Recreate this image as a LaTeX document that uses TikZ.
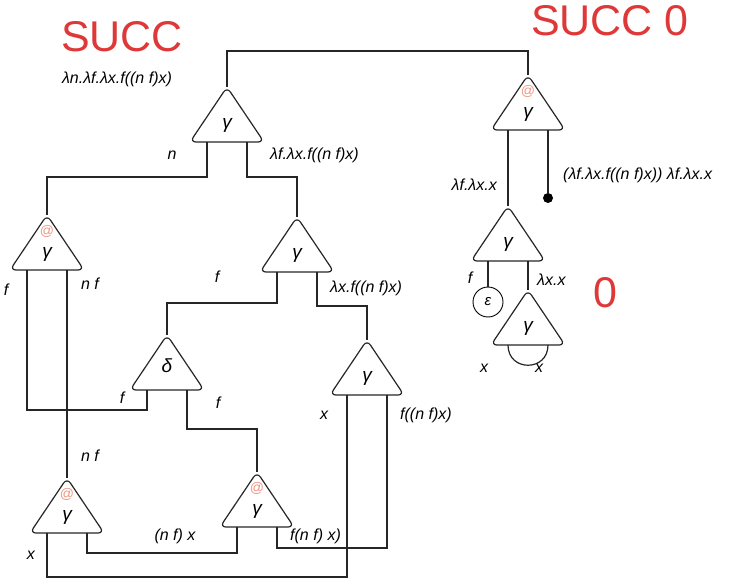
\documentclass[tikz,border=0pt]{standalone}
\usepackage{fontspec}
\setmainfont{Liberation Sans}
\definecolor{succred}{RGB}{222,56,56}
\definecolor{atpink}{RGB}{238,150,130}
\tikzset{
  wire/.style={line width=1.2pt, draw=black!85},
  lbl/.style={font=\itshape\fontsize{16}{18}\selectfont, inner sep=0pt},
  sym/.style={font=\itshape\fontsize{19}{21}\selectfont, inner sep=0pt},
  atsym/.style={font=\fontsize{14}{15}\selectfont, text=atpink, inner sep=0pt},
  big/.style={font=\fontsize{43}{50}\selectfont, text=succred, inner sep=0pt},
  pics/tri/.style={code={
    \draw[wire, rounded corners=6pt] (0,0) -- (37,55) -- (-37,55) -- cycle;
    \coordinate (-top) at (0,0);
    \coordinate (-l) at (-20,55);
    \coordinate (-r) at (20,55);
    \node[sym] (-sym) at (0,38) {#1};
  }},
  pics/atri/.style={code={
    \draw[wire, rounded corners=6pt] (0,0) -- (37,55) -- (-37,55) -- cycle;
    \coordinate (-top) at (0,0);
    \coordinate (-l) at (-20,55);
    \coordinate (-r) at (20,55);
    \node[atsym] (-at) at (0,16) {@};
    \node[sym] (-sym) at (0,39) {#1};
  }},
}
\begin{document}
\begin{tikzpicture}[x=1pt, y=-1pt]
\useasboundingbox (0,0) rectangle (729,586);

% triangles
\pic (T1) at (227,87) {tri=γ};
\pic (A1) at (528,75) {atri=γ};
\pic (L1) at (47,215) {atri=γ};
\pic (G2) at (297,217) {tri=γ};
\pic (G3) at (367,340) {tri=γ};
\pic (B1) at (67,478) {atri=γ};
\pic (B2) at (257,472) {atri=γ};
\pic (Z1) at (508,206) {tri=γ};
\pic (Z2) at (528,290) {tri=γ};
% delta
\draw[wire, rounded corners=6pt] (167,335) -- (204,390) -- (130,390) -- cycle;
\coordinate (D-top) at (167,335);
\coordinate (D-l) at (147,390);
\coordinate (D-r) at (187,390);
\node[sym] (D-sym) at (167,366) {δ};

% epsilon and dot
\node[draw, line width=0.9pt, circle, minimum size=30pt, inner sep=0pt,
      font=\itshape\fontsize{15}{17}\selectfont] (E) at (488,302) {ε};
\node[fill=black, circle, minimum size=10pt, inner sep=0pt] (dot) at (548,198) {};

% connectors
\draw[wire] (T1-top) -- ++(0,-36) -| (A1-top);
\draw[wire] (T1-l) -- ++(0,35) -| (L1-top);
\draw[wire] (T1-r) -- ++(0,35) -| (G2-top);
\draw[wire] (A1-l) -- (Z1-top);
\draw[wire] (A1-r) -- (dot);
\draw[wire] (L1-l) -- ++(0,140) -| (D-l);
\draw[wire] (L1-r) -- (B1-top);
\draw[wire] (G2-l) -- ++(0,31) -| (D-top);
\draw[wire] (G2-r) -- ++(0,34) -| (G3-top);
\draw[wire] (D-r) -- ++(0,39) -| (B2-top);
\draw[wire] (G3-l) -- ++(0,182) -| (B1-l);
\draw[wire] (G3-r) -- ++(0,153) -| (B2-r);
\draw[wire] (B1-r) -- ++(0,20) -| (B2-l);
\draw[wire] (Z1-l) -- (E);
\draw[wire] (Z1-r) -- (Z2-top);
\draw[wire] (Z2-l) .. controls ++(0,27) and ++(0,27) .. (Z2-r);

% big titles
\node[big] (succ) at (122,37) {SUCC};
\node[big] (succ0) at (610,21) {SUCC 0};
\node[big] (zero) at (605,293) {0};

% labels
\node[lbl] (t1) at (117,79) {λn.λf.λx.f((n f)x)};
\node[lbl] (t2) at (172,155) {n};
\node[lbl, anchor=west] (t3) at (270,155) {λf.λx.f((n f)x)};
\node[lbl, anchor=east] (t4) at (497,185) {λf.λx.x};
\node[lbl, anchor=west] (t5) at (563,175) {(λf.λx.f((n f)x)) λf.λx.x};
\node[lbl] (t6) at (6,290) {f};
\node[lbl] (t7) at (90,284) {n f};
\node[lbl] (t8) at (217,277) {f};
\node[lbl, anchor=west] (t9) at (330,288) {λx.f((n f)x)};
\node[lbl] (t10) at (122,398) {f};
\node[lbl] (t11) at (218,403) {f};
\node[lbl] (t12) at (324,415) {x};
\node[lbl, anchor=west] (t13) at (400,415) {f((n f)x)};
\node[lbl] (t14) at (90,456) {n f};
\node[lbl] (t15) at (31,555) {x};
\node[lbl] (t16) at (175,536) {(n f) x};
\node[lbl, anchor=west] (t17) at (290,536) {f(n f) x)};
\node[lbl] (t18) at (470,278) {f};
\node[lbl, anchor=west] (t19) at (537,280) {λx.x};
\node[lbl] (t20) at (484,368) {x};
\node[lbl] (t21) at (539,368) {x};
\end{tikzpicture}
\end{document}
